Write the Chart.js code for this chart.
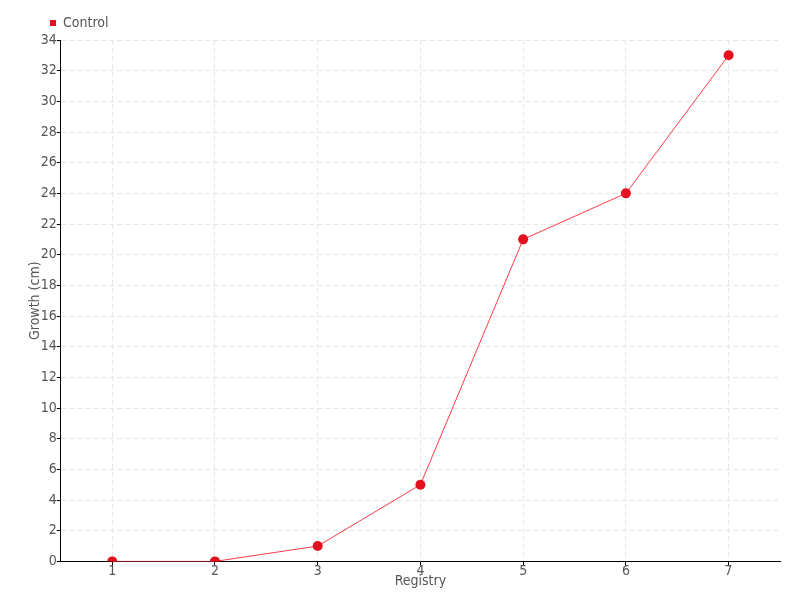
<!DOCTYPE html>
<html>
<head>
<meta charset="utf-8">
<script src="https://cdn.jsdelivr.net/npm/chart.js@4/dist/chart.umd.min.js"></script>
<style>
html,body{margin:0;padding:0;background:#fff;}
#wrap{width:800px;height:600px;position:relative;}
</style>
</head>
<body>
<div id="wrap"><canvas id="c" width="800" height="600"></canvas></div>
<script>
const categories = ["1","2","3","4","5","6","7"];
const controlValues = [0,0,1,5,21,24,33];
const seriesName = "Control";
const xTitle = "Registry";
const yTitle = "Growth (cm)";
const yTickStep = 2;
const yMax = 34;

const FONT = "'Liberation Sans Narrow', 'DejaVu Sans Condensed', sans-serif";
Chart.defaults.font.family = FONT;
Chart.defaults.color = "#555";

new Chart(document.getElementById('c'), {
  type: 'line',
  data: {
    labels: categories,
    datasets: [{
      label: seriesName,
      data: controlValues,
      borderColor: '#ff3a4a',
      backgroundColor: '#e3101f',
      borderWidth: 1,
      pointRadius: 5,
      pointHoverRadius: 5,
      pointBackgroundColor: '#e3101f',
      pointBorderColor: '#e3101f',
      pointBorderWidth: 0,
      tension: 0,
      fill: false
    }]
  },
  options: {
    responsive: false,
    animation: false,
    devicePixelRatio: 1,
    layout: { padding: { left: 27, right: 20, top: -7, bottom: 10 } },
    plugins: {
      legend: {
        position: 'top',
        align: 'start',
        labels: {
          usePointStyle: true,
          pointStyle: 'rect',
          boxWidth: 6,
          boxHeight: 6,
          padding: 23,
          font: { size: 14 },
          color: '#555'
        }
      },
      tooltip: { enabled: false }
    },
    scales: {
      x: {
        offset: true,
        grid: {
          offset: false,
          color: '#e6e6e6',
          tickColor: '#000',
          tickLength: 4
        },
        border: { color: '#000', width: 1, dash: [5,3] },
        ticks: { font: { size: 14 }, color: '#555', padding: -2 },
        title: { display: true, text: xTitle, font: { size: 14 }, color: '#555', padding: { top: -5, bottom: 0 } }
      },
      y: {
        min: 0,
        max: yMax,
        ticks: { stepSize: yTickStep, font: { size: 14 }, color: '#555', padding: 0 },
        grid: {
          color: '#e6e6e6',
          tickColor: '#000',
          tickLength: 4
        },
        border: { color: '#000', width: 1, dash: [5,3] },
        title: { display: true, text: yTitle, font: { size: 14 }, color: '#555', padding: { top: 0, bottom: -3 } }
      }
    }
  }
});
</script>
</body>
</html>
